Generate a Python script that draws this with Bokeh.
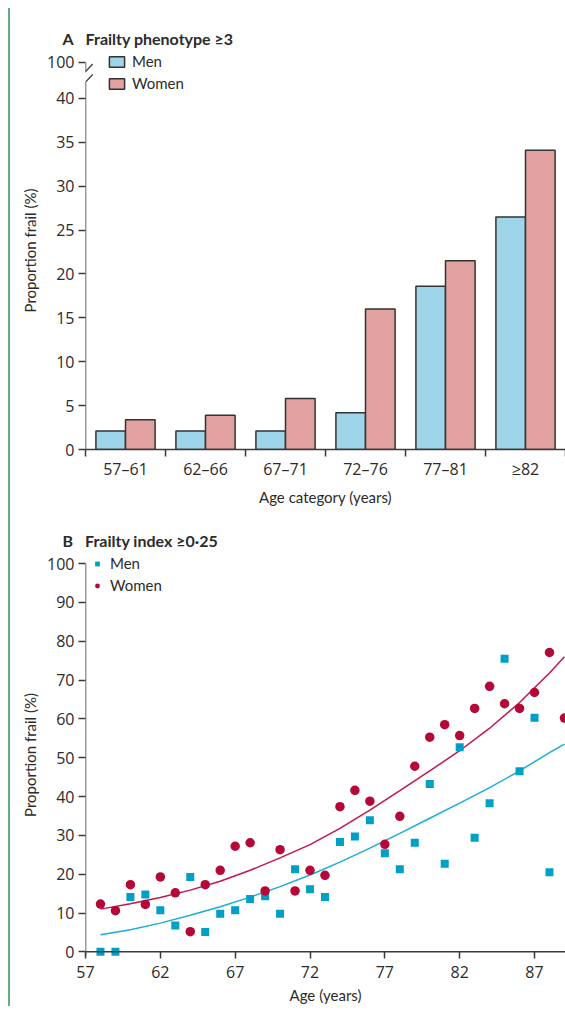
from bokeh.plotting import figure
from bokeh.models import (FixedTicker, Legend, LegendItem, Arrow, ColumnDataSource, Range1d)
from bokeh.layouts import column
from bokeh.transform import dodge
from bokeh.embed import file_html
from bokeh.resources import INLINE

FONT = "Lato"
NUMFONT = "Open Sans"
TXT = "#2b2b2b"
AX = "#3a3a3a"

# ---------------- Panel A data ----------------
age_categories = ["57–61", "62–66", "67–71", "72–76", "77–81", "≥82"]
men_phenotype = [2.1, 2.1, 2.1, 4.2, 18.6, 26.5]
women_phenotype = [3.4, 3.9, 5.8, 16.0, 21.5, 34.1]
y_ticks_a = [0, 5, 10, 15, 20, 25, 30, 35, 40]
y_break_top = 44.1   # position of the "100" label above the axis break

# ---------------- Panel B data ----------------
men_ages = [58, 59, 60, 61, 62, 63, 64, 65, 66, 67, 68, 69, 70, 71, 72, 73, 74, 75,
            76, 77, 78, 79, 80, 81, 82, 83, 84, 85, 86, 87, 88]
men_index = [0.0, 0.0, 14.1, 14.8, 10.7, 6.8, 19.3, 5.1, 9.8, 10.7, 13.6, 14.3, 9.8,
             21.3, 16.1, 14.1, 28.3, 29.7, 33.9, 25.4, 21.3, 28.1, 43.2, 22.7, 52.7,
             29.4, 38.3, 75.5, 46.5, 60.3, 20.5]
women_ages = [58, 59, 60, 61, 62, 63, 64, 65, 66, 67, 68, 69, 70, 71, 72, 73, 74, 75,
              76, 77, 78, 79, 80, 81, 82, 83, 84, 85, 86, 87, 88, 89]
women_index = [12.3, 10.6, 17.3, 12.2, 19.3, 15.2, 5.2, 17.3, 21.0, 27.2, 28.1, 15.7,
               26.3, 15.7, 21.0, 19.7, 37.4, 41.6, 38.8, 27.7, 34.9, 47.8, 55.3, 58.5,
               55.7, 62.7, 68.4, 63.9, 62.7, 66.8, 77.1, 60.2]
fit_ages = [58, 60, 62, 64, 66, 68, 70, 72, 74, 76, 78, 80, 82, 84, 86, 88, 89]
men_fit = [4.4, 5.7, 7.4, 9.4, 11.6, 14.1, 16.8, 19.8, 23.1, 26.7, 30.5, 34.4, 38.3,
           42.3, 46.6, 51.3, 53.5]
women_fit = [11.0, 12.4, 14.0, 15.9, 18.2, 21.0, 24.2, 27.6, 31.8, 36.5, 41.5, 46.6,
             51.8, 57.6, 64.2, 71.8, 76.0]
x_ticks_b = [57, 62, 67, 72, 77, 82, 87]
y_ticks_b = [0, 10, 20, 30, 40, 50, 60, 70, 80, 90, 100]


def style_axes(p):
    for ax in (p.xaxis[0], p.yaxis[0]):
        ax.axis_line_color = AX
        ax.axis_line_width = 1.5
        ax.major_tick_line_color = AX
        ax.major_tick_line_width = 1.5
        ax.minor_tick_line_color = AX
        ax.minor_tick_line_width = 1.5
        ax.major_tick_in = 0
        ax.major_tick_out = 7
        ax.minor_tick_in = 0
        ax.minor_tick_out = 0
        ax.major_label_text_font = NUMFONT
        ax.major_label_text_font_size = "16px"
        ax.major_label_text_color = TXT
        ax.axis_label_text_font = FONT
        ax.axis_label_text_font_size = "15px"
        ax.axis_label_text_font_style = "normal"
        ax.axis_label_text_color = TXT
        ax.major_label_standoff = 4
    p.grid.visible = False
    p.outline_line_color = None
    p.title.align = "left"
    p.title.offset = -23
    p.title.standoff = 8
    p.title.text_font = FONT
    p.title.text_font_size = "16px"
    p.title.text_font_style = "bold"
    p.title.text_color = TXT


def seg(p, x0, y0, x1, y1, width=1.5):
    p.add_layout(Arrow(end=None, x_start=x0, y_start=y0, x_end=x1, y_end=y1,
                       line_color=AX, line_width=width))


# ================= Panel A =================
src_a = ColumnDataSource(dict(
    x=[i + 0.5 for i in range(len(age_categories))],
    men=men_phenotype, women=women_phenotype))

pA = figure(frame_width=480, frame_height=398, x_range=Range1d(0, 6),
            y_range=Range1d(0, 45.35), output_backend="svg", toolbar_location=None,
            title="A\u2003Frailty phenotype ≥3",
            min_border_left=75, min_border_right=0, min_border_top=43, min_border_bottom=71)
style_axes(pA)
rm = pA.vbar(x=dodge("x", -0.185, range=pA.x_range), top="men", width=0.37, source=src_a,
             fill_color="#9fd5e8", line_color="#333333", line_width=1.5)
rw = pA.vbar(x=dodge("x", 0.185, range=pA.x_range), top="women", width=0.37, source=src_a,
             fill_color="#e2a2a2", line_color="#333333", line_width=1.5)

xa = pA.xaxis[0]
xa.ticker = FixedTicker(ticks=[i + 0.5 for i in range(6)], minor_ticks=list(range(7)))
xa.major_label_overrides = {i + 0.5: lab for i, lab in enumerate(age_categories)}
xa.major_tick_out = 0
xa.minor_tick_out = 7
xa.axis_label = "Age category (years)"
xa.major_label_standoff = 1

ya = pA.yaxis[0]
ya.ticker = FixedTicker(ticks=y_ticks_a + [y_break_top], minor_ticks=[])
ya.major_label_overrides = {y_break_top: "100"}
ya.axis_label = "Proportion frail (%)"
ya.axis_line_color = None

# y axis line with a break between 40 and 100
seg(pA, 0, 0, 0, 41.8)
seg(pA, 0, 43.05, 0, y_break_top)
seg(pA, -0.11, 42.0, 0.09, 43.93, 1.3)
seg(pA, -0.11, 40.8, 0.09, 42.73, 1.3)

legA = Legend(items=[LegendItem(label="Men", renderers=[rm]),
                     LegendItem(label="Women", renderers=[rw])],
              location=(22, 357), glyph_width=19, glyph_height=13, label_standoff=6,
              spacing=4, padding=0, margin=0, border_line_color=None,
              background_fill_alpha=0, label_text_font=FONT, label_text_font_size="15px",
              label_text_color=TXT)
pA.add_layout(legA)

# ================= Panel B =================
pB = figure(frame_width=480, frame_height=403, x_range=Range1d(57, 89.07),
            y_range=Range1d(-1.2, 102.6), output_backend="svg", toolbar_location=None,
            title="B\u2003Frailty index ≥0·25",
            min_border_left=75, min_border_right=0, min_border_top=33, min_border_bottom=46)
style_axes(pB)
pB.line(fit_ages, women_fit, line_color="#c4164a", line_width=1.5)
pB.line(fit_ages, men_fit, line_color="#1aaed6", line_width=1.5)
sm = pB.scatter(men_ages, men_index, marker="square", size=8, fill_color="#00a0c6",
                line_color=None)
sw = pB.scatter(women_ages, women_index, marker="circle", size=9.5, fill_color="#b30838",
                line_color=None)

xb = pB.xaxis[0]
xb.ticker = FixedTicker(ticks=x_ticks_b, minor_ticks=[])
xb.axis_label = "Age (years)"
xb.axis_line_color = None
xb.major_tick_in = 5
xb.major_tick_out = 2
xb.major_label_standoff = 7
yb = pB.yaxis[0]
yb.ticker = FixedTicker(ticks=y_ticks_b, minor_ticks=[])
yb.axis_label = "Proportion frail (%)"
yb.axis_line_color = None

seg(pB, 57, -1.2, 57, 100)
seg(pB, 57, 0, 89.07, 0)

legB = Legend(items=[LegendItem(label="Men", renderers=[sm]),
                     LegendItem(label="Women", renderers=[sw])],
              location=(6, 357 + 5), glyph_width=12, glyph_height=13, label_standoff=7,
              spacing=4, padding=0, margin=0, border_line_color=None,
              background_fill_alpha=0, label_text_font=FONT, label_text_font_size="15px",
              label_text_color=TXT)
pB.add_layout(legB)

layout = column(pA, pB, spacing=0, margin=(8, 0, 0, 8),
                styles={"border-left": "2px solid #5fae84"})
open("out.html", "w").write(file_html(layout, INLINE))
